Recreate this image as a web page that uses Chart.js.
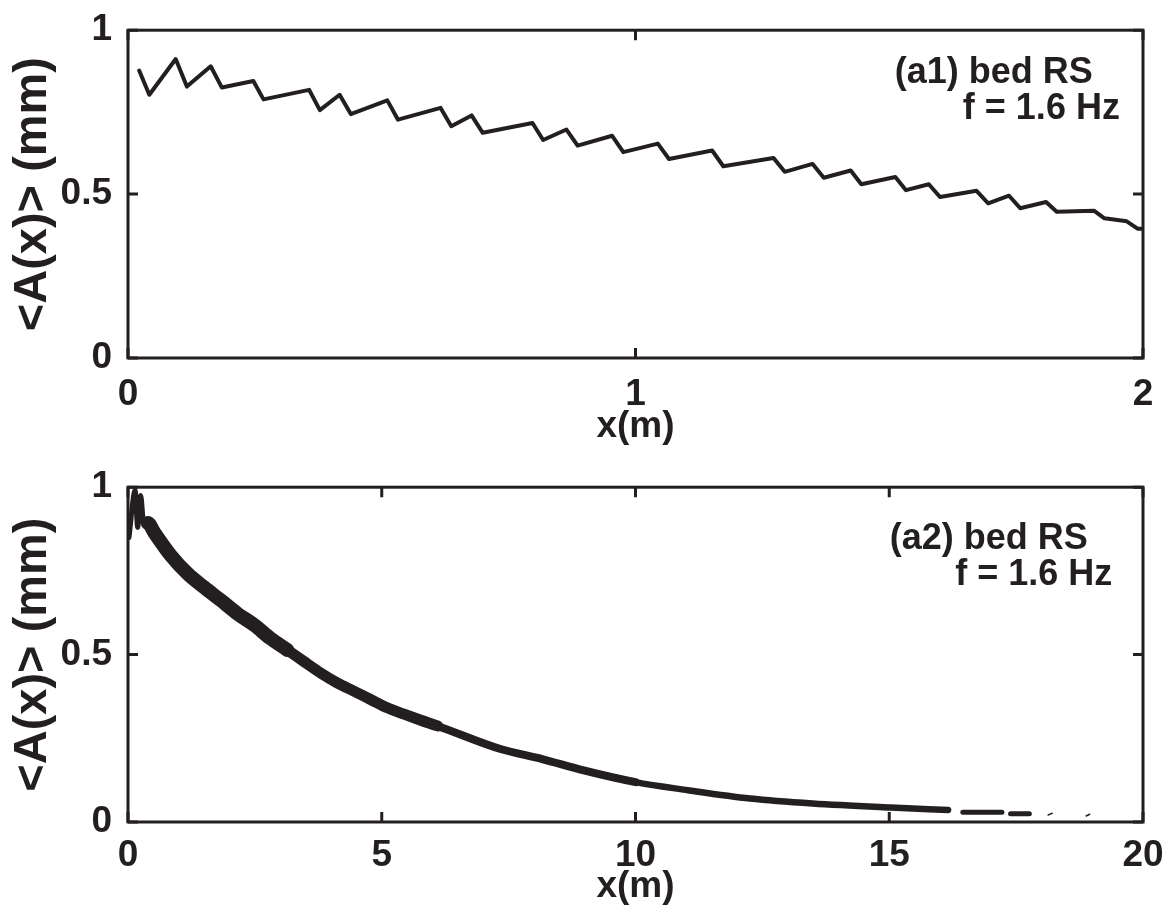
<!DOCTYPE html>
<html>
<head>
<meta charset="utf-8">
<script src="https://cdn.jsdelivr.net/npm/chart.js@4.4.1/dist/chart.umd.min.js"></script>
<style>
  html, body { margin: 0; padding: 0; background: #fff; }
  canvas { display: block; }
</style>
</head>
<body>
<canvas id="chartTop" width="1170" height="457"></canvas>
<canvas id="chartBottom" width="1170" height="457"></canvas>
<script>
const INK = '#231f20';
const FONT = '"Liberation Sans", Arial, Helvetica, sans-serif';

// panel (a1): first 2 m of the bed
const topX = [0.022, 0.042, 0.094, 0.116, 0.163, 0.185, 0.247, 0.267, 0.357, 0.378, 0.417, 0.439,
    0.511, 0.532, 0.616, 0.637, 0.677, 0.699, 0.797, 0.818, 0.864, 0.886, 0.954, 0.976,
    1.044, 1.066, 1.151, 1.173, 1.272, 1.294, 1.349, 1.371, 1.424, 1.445, 1.512, 1.533,
    1.578, 1.600, 1.672, 1.695, 1.736, 1.758, 1.809, 1.830, 1.904, 1.924, 1.968, 1.990, 2.0];
const topA = [0.877, 0.803, 0.912, 0.828, 0.890, 0.825, 0.845, 0.789, 0.818, 0.756, 0.803, 0.744,
    0.786, 0.727, 0.763, 0.707, 0.740, 0.687, 0.717, 0.665, 0.697, 0.648, 0.678, 0.628,
    0.654, 0.607, 0.633, 0.585, 0.610, 0.568, 0.592, 0.550, 0.572, 0.530, 0.552, 0.512,
    0.530, 0.491, 0.510, 0.472, 0.495, 0.457, 0.476, 0.446, 0.449, 0.426, 0.417, 0.394, 0.394];

// panel (a2): whole 20 m, null = break in the trace
const bedX = [0.02, 0.14, 0.19, 0.25, 0.31, 0.39, 0.52, 0.85, 1.18, 1.50, 1.83, 2.16, 2.49, 2.81,
    3.14, 3.47, 3.80, 4.13, 4.45, 4.78, 5.11, 5.44, 5.77, 6.10, 7.34, 8.16, 8.98, 10.0,
    11.03, 12.26, 13.49, 15.03, 16.16, 16.3, 16.45, 17.22, 17.3, 17.39, 17.76, 17.9,
    18.13, 18.21, 18.5, 18.88, 18.95];
const bedA = [0.85, 0.99, 0.88, 0.975, 0.89, 0.893, 0.864, 0.795, 0.741, 0.701, 0.662, 0.622, 0.588, 0.548,
    0.514, 0.479, 0.445, 0.415, 0.391, 0.366, 0.341, 0.322, 0.304, 0.287, 0.218, 0.188, 0.154, 0.119,
    0.095, 0.070, 0.055, 0.043, 0.036, null, 0.029, 0.029, null, 0.025, 0.025, null,
    0.021, 0.026, null, 0.018, 0.023];

const xTicksTop = [0, 1, 2];
const xTicksBottom = [0, 5, 10, 15, 20];
const yTicks = [0, 0.5, 1];

// the measured trace is a wide band that thins out downstream
function bandWidth(x) {
    if (x < 0.36) return 5;
    if (x < 3) return 14;
    if (x < 6) return 11;
    if (x < 10) return 8;
    if (x < 16.3) return 6.5;
    if (x < 18) return 5;
    return 1.5;
}

// matlab style frame with inward ticks on all four sides
const matlabBox = {
    id: 'matlabBox',
    afterDatasetsDraw(chart) {
        const { ctx, chartArea: a, scales } = chart;
        const len = 10;
        ctx.save();
        ctx.strokeStyle = INK;
        ctx.lineWidth = 3;
        ctx.beginPath();
        scales.x.ticks.forEach(t => {
            const px = scales.x.getPixelForValue(t.value);
            ctx.moveTo(px, a.bottom); ctx.lineTo(px, a.bottom - len);
            ctx.moveTo(px, a.top); ctx.lineTo(px, a.top + len);
        });
        scales.y.ticks.forEach(t => {
            const py = scales.y.getPixelForValue(t.value);
            ctx.moveTo(a.left, py); ctx.lineTo(a.left + len, py);
            ctx.moveTo(a.right, py); ctx.lineTo(a.right - len, py);
        });
        ctx.stroke();
        ctx.strokeRect(a.left, a.top, a.right - a.left, a.bottom - a.top);
        ctx.restore();
    }
};

const panelNotes = {
    id: 'panelNotes',
    afterDraw(chart, args, opts) {
        const { ctx, scales } = chart;
        ctx.save();
        ctx.fillStyle = INK;
        ctx.font = `bold ${opts.size}px ${FONT}`;
        ctx.textAlign = 'left';
        ctx.textBaseline = 'alphabetic';
        opts.lines.forEach(l => {
            ctx.fillText(l.text, scales.x.getPixelForValue(l.x), scales.y.getPixelForValue(l.y));
        });
        ctx.restore();
    }
};

function makePanel(id, xs, ys, cfg) {
    const points = xs.map((x, i) => ({ x: x, y: ys[i] }));
    return new Chart(document.getElementById(id), {
        type: 'line',
        data: {
            datasets: [{
                data: points,
                borderColor: INK,
                borderWidth: cfg.lineWidth,
                borderCapStyle: 'round',
                borderJoinStyle: 'round',
                pointRadius: 0,
                tension: 0,
                cubicInterpolationMode: cfg.smooth ? 'monotone' : 'default',
                spanGaps: false,
                fill: false,
                segment: cfg.segment
            }]
        },
        options: {
            responsive: false,
            animation: false,
            events: [],
            layout: { padding: { top: cfg.top, right: 27, left: 0, bottom: 0 } },
            plugins: {
                legend: { display: false },
                tooltip: { enabled: false },
                panelNotes: { size: 36, lines: cfg.notes }
            },
            scales: {
                x: {
                    type: 'linear',
                    min: cfg.xTicks[0],
                    max: cfg.xTicks[cfg.xTicks.length - 1],
                    afterBuildTicks: s => { s.ticks = cfg.xTicks.map(v => ({ value: v })); },
                    afterFit: s => { s.height = cfg.xHeight; },
                    grid: { display: false },
                    border: { display: false },
                    ticks: {
                        color: INK,
                        font: { family: FONT, size: 37, weight: 'bold' },
                        padding: cfg.xTickPad,
                        maxRotation: 0,
                        autoSkip: false,
                        callback: v => String(v)
                    },
                    title: {
                        display: true,
                        text: 'x(m)',
                        color: INK,
                        font: { family: FONT, size: 37, weight: 'bold' },
                        padding: { top: 0, bottom: cfg.xTitlePad }
                    }
                },
                y: {
                    type: 'linear',
                    min: 0,
                    max: 1,
                    afterBuildTicks: s => { s.ticks = yTicks.map(v => ({ value: v })); },
                    afterFit: s => { s.width = 128; },
                    grid: { display: false },
                    border: { display: false },
                    ticks: {
                        color: INK,
                        font: { family: FONT, size: 37, weight: 'bold' },
                        padding: 8,
                        autoSkip: false,
                        callback: v => String(v)
                    },
                    title: {
                        display: true,
                        text: '<A(x)> (mm)',
                        color: INK,
                        font: { family: FONT, size: 47, weight: 'bold', lineHeight: 1 },
                        padding: { top: 10, bottom: 0 }
                    }
                }
            }
        },
        plugins: [matlabBox, panelNotes]
    });
}

makePanel('chartTop', topX, topA, {
    top: 21, xHeight: 99, xTickPad: 7, xTitlePad: 8,
    xTicks: xTicksTop, lineWidth: 4, smooth: false,
    notes: [
        { text: '(a1) bed RS', x: 1.511, y: 0.840 },
        { text: 'f = 1.6 Hz', x: 1.645, y: 0.730 }
    ]
});

makePanel('chartBottom', bedX, bedA, {
    top: 27, xHeight: 92, xTickPad: 4, xTitlePad: 5,
    xTicks: xTicksBottom, lineWidth: 6, smooth: true,
    segment: { borderWidth: ctx => bandWidth(ctx.p0.parsed.x) },
    notes: [
        { text: '(a2) bed RS', x: 15.01, y: 0.814 },
        { text: 'f = 1.6 Hz', x: 16.30, y: 0.707 }
    ]
});
</script>
</body>
</html>
